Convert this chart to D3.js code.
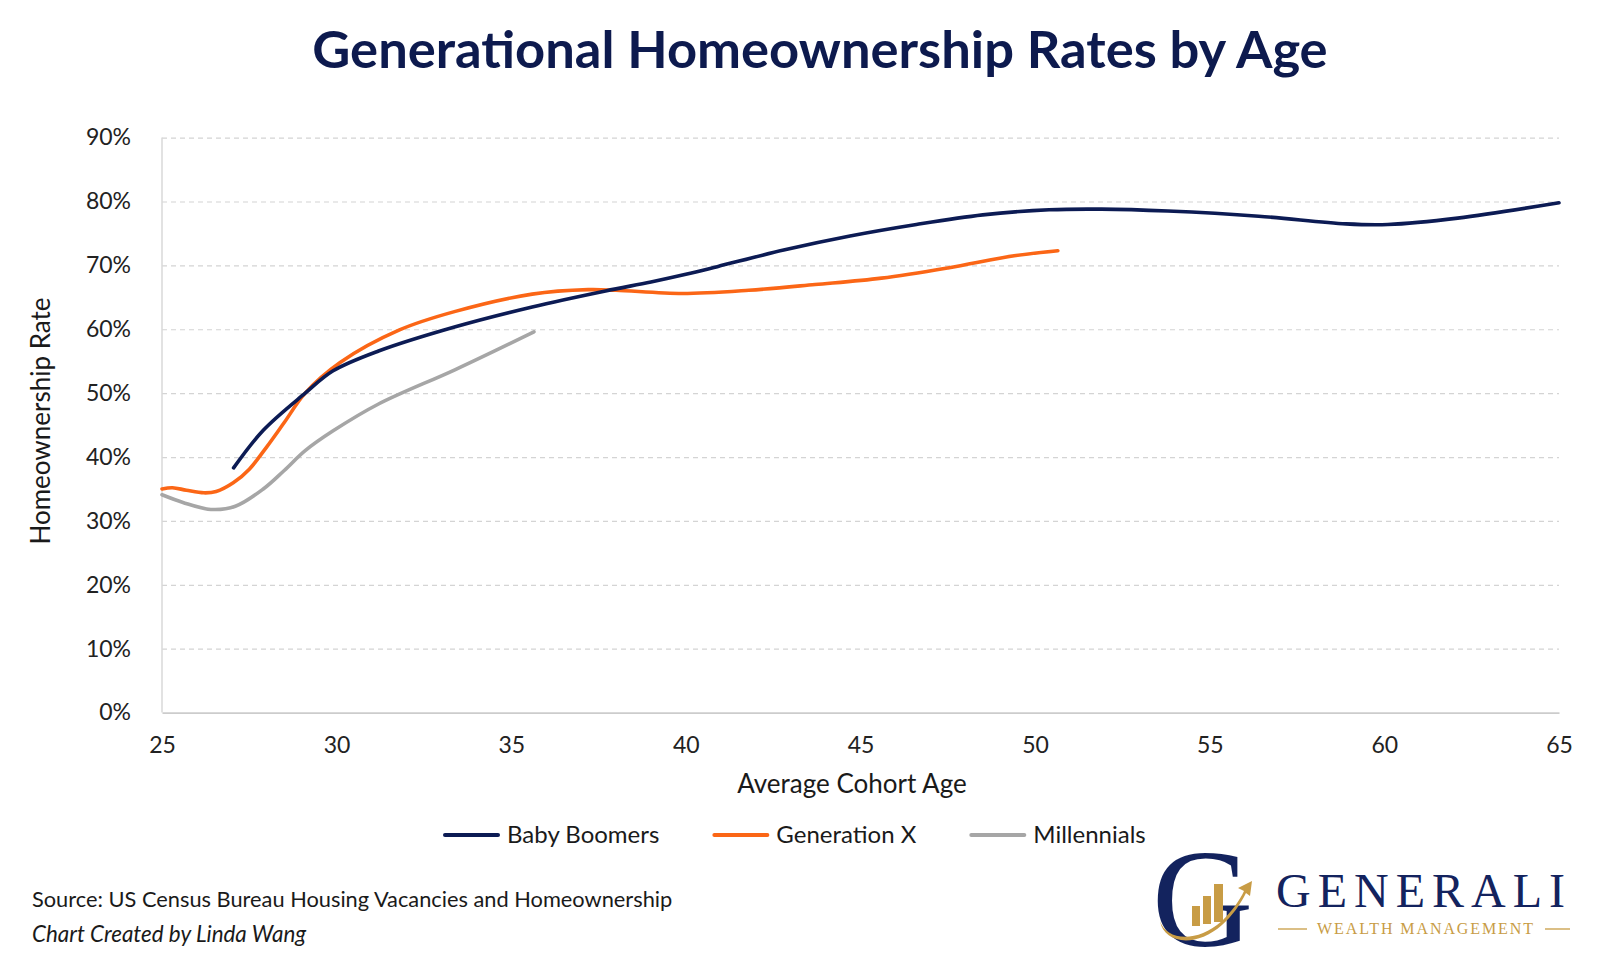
<!DOCTYPE html>
<meta charset="utf-8">
<script src="https://cdn.jsdelivr.net/npm/d3@7"></script>
<style>
  body { margin: 0; background: #fff; }
  text { font-family: Lato, "Open Sans", sans-serif; }
</style>
<body>
<script>

// ages and rates (rates in %)
var boomerAge  = [27.05, 27.9, 29.1, 29.9, 31.2, 33.4, 35.6, 37.7, 39.0, 40.0, 40.9, 42.8, 44.7, 46.6, 48.5, 50.4, 51.9, 53.8, 56.4, 58.9, 60.1, 62.1, 65.0]
var boomerRate = [38.3, 44.2, 50.0, 53.5, 56.6, 60.4, 63.5, 66.0, 67.4, 68.6, 69.8, 72.4, 74.6, 76.4, 77.9, 78.7, 78.8, 78.5, 77.7, 76.5, 76.4, 77.4, 79.8]

var genxAge  = [25.0, 25.3, 25.7, 26.2, 26.55, 27.05, 27.5, 28.0, 28.5, 29.1, 30.1, 31.8, 33.4, 35.6, 37.2, 38.0, 39.9, 41.8, 43.7, 45.6, 47.5, 49.4, 50.65]
var genxRate = [35.0, 35.2, 34.8, 34.4, 34.6, 36.0, 38.1, 41.6, 45.4, 50.0, 54.8, 59.9, 62.8, 65.5, 66.2, 66.1, 65.6, 66.1, 67.0, 68.0, 69.6, 71.5, 72.3]

var millAge  = [25.0, 25.6, 26.4, 27.1, 27.9, 28.5, 29.1, 29.9, 31.2, 33.4, 35.65]
var millRate = [34.1, 32.9, 31.8, 32.3, 35.0, 37.9, 41.0, 44.1, 48.3, 53.7, 59.6]

var seriesNames  = ["Baby Boomers", "Generation X", "Millennials"]
var seriesColors = ["#0c1b54", "#fb6616", "#a6a6a6"]

var xTicks = [25, 30, 35, 40, 45, 50, 55, 60, 65]
var yTicks = [0, 10, 20, 30, 40, 50, 60, 70, 80, 90]

var width = 1610
var height = 977
var plotLeft = 162, plotRight = 1559, plotTop = 137.6, plotBottom = 712.6

var x = d3.scaleLinear().domain([25, 65]).range([plotLeft, plotRight])
var y = d3.scaleLinear().domain([0, 90]).range([plotBottom, plotTop])

var svg = d3.select("body").append("svg")
            .attr("width", width)
            .attr("height", height)
            .style("display", "block")

svg.append("text")
   .attr("x", 820).attr("y", 68)
   .attr("text-anchor", "middle")
   .style("font-size", "52.5px")
   .style("font-weight", 700)
   .style("fill", "#0d1a4e")
   .text("Generational Homeownership Rates by Age")

// gridlines
var grid = svg.append("g")
    .attr("transform", "translate(" + plotLeft + ",0)")
    .call(d3.axisLeft(y).tickValues(yTicks.slice(1)).tickSize(-(plotRight - plotLeft)).tickFormat(""))
grid.select(".domain").remove()
grid.selectAll("line").attr("stroke", "#d4d4d4").attr("stroke-width", 1.2).attr("stroke-dasharray", "5,4")

// y labels
var yAxis = svg.append("g")
    .attr("transform", "translate(" + plotLeft + ",0)")
    .call(d3.axisLeft(y).tickValues(yTicks).tickSize(0).tickPadding(31).tickFormat(function(d) { return d + "%" }))
yAxis.select(".domain").remove()
yAxis.selectAll("text").style("font-size", "23px").style("fill", "#222").style("font-family", "Lato, sans-serif")

// left axis line
svg.append("line").attr("x1", plotLeft).attr("x2", plotLeft).attr("y1", plotTop).attr("y2", plotBottom)
   .attr("stroke", "#d9d9d9").attr("stroke-width", 1.5)

var xAxis = svg.append("g")
    .attr("transform", "translate(0," + plotBottom + ")")
    .call(d3.axisBottom(x).tickValues(xTicks).tickSize(0).tickPadding(24))
xAxis.select(".domain").attr("stroke", "#cccccc").attr("stroke-width", 1.8)
xAxis.selectAll("text").style("font-size", "23px").style("fill", "#222").style("font-family", "Lato, sans-serif")

svg.append("text")
   .attr("transform", "translate(50,421) rotate(-90)")
   .attr("text-anchor", "middle")
   .style("font-size", "26px").style("fill", "#1a1a1a")
   .text("Homeownership Rate")

svg.append("text")
   .attr("x", 852).attr("y", 793)
   .attr("text-anchor", "middle")
   .style("font-size", "26px").style("fill", "#1a1a1a")
   .text("Average Cohort Age")

// lines
var seriesData = [
  d3.zip(boomerAge, boomerRate),
  d3.zip(genxAge, genxRate),
  d3.zip(millAge, millRate)
]

var line = d3.line()
    .x(function(d) { return x(d[0]) })
    .y(function(d) { return y(d[1]) })
    .curve(d3.curveCatmullRom.alpha(0.5))

// draw gray first so navy/orange sit on top
;[2, 1, 0].forEach(function(i) {
  svg.append("path")
     .attr("d", line(seriesData[i]))
     .attr("fill", "none")
     .attr("stroke", seriesColors[i])
     .attr("stroke-width", 3.6)
     .attr("stroke-linecap", "round")
     .attr("stroke-linejoin", "round")
})

// legend
var lx = 445
var legend = svg.append("g")
seriesNames.forEach(function(name, i) {
  legend.append("line")
        .attr("x1", lx).attr("x2", lx + 53).attr("y1", 835).attr("y2", 835)
        .attr("stroke", seriesColors[i]).attr("stroke-width", 4).attr("stroke-linecap", "round")
  var t = legend.append("text")
        .attr("x", lx + 62).attr("y", 843)
        .style("font-size", "24px").style("fill", "#1a1a1a")
        .text(name)
  lx = lx + 62 + t.node().getComputedTextLength() + 55
})

// source notes
svg.append("text")
   .attr("x", 32).attr("y", 907)
   .style("font-size", "21.8px").style("fill", "#1a1a1a")
   .text("Source: US Census Bureau Housing Vacancies and Homeownership")
svg.append("text")
   .attr("x", 32).attr("y", 942)
   .style("font-size", "22.4px").style("font-style", "italic").style("fill", "#1a1a1a")
   .text("Chart Created by Linda Wang")

// logo
var logo = svg.append("g")
var gold = "#c89c45"
logo.append("text")
    .attr("x", 1152).attr("y", 946)
    .style("font-family", "'Liberation Serif', 'DejaVu Serif', serif")
    .style("font-size", "140px").style("fill", "#13235e")
    .text("G")
logo.append("rect").attr("x", 1192).attr("y", 906).attr("width", 8).attr("height", 20).attr("fill", gold)
logo.append("rect").attr("x", 1203).attr("y", 896).attr("width", 8).attr("height", 28).attr("fill", gold)
logo.append("rect").attr("x", 1214).attr("y", 884).attr("width", 9).attr("height", 38).attr("fill", gold)
logo.append("path")
    .attr("d", "M1160,921 C1166,940 1196,944 1222,921 C1232,911 1240,900 1244,891 L1238,888 L1252,881 L1250,896 L1246,893 C1240,905 1232,916 1222,925 C1196,948 1164,944 1160,921 Z")
    .attr("fill", gold)
logo.append("text")
    .attr("x", 1276).attr("y", 907)
    .style("font-family", "'Liberation Serif', 'DejaVu Serif', serif")
    .style("font-size", "48px").style("letter-spacing", "7px").style("fill", "#13235e")
    .text("GENERALI")
logo.append("text")
    .attr("x", 1317).attr("y", 934)
    .style("font-family", "'Liberation Serif', 'DejaVu Serif', serif")
    .style("font-size", "16px").style("letter-spacing", "1.9px").style("fill", gold)
    .text("WEALTH MANAGEMENT")
logo.append("line").attr("x1", 1278).attr("x2", 1307).attr("y1", 929).attr("y2", 929).attr("stroke", gold).attr("stroke-width", 1.3)
logo.append("line").attr("x1", 1545).attr("x2", 1570).attr("y1", 929).attr("y2", 929).attr("stroke", gold).attr("stroke-width", 1.3)

</script>
</body>
